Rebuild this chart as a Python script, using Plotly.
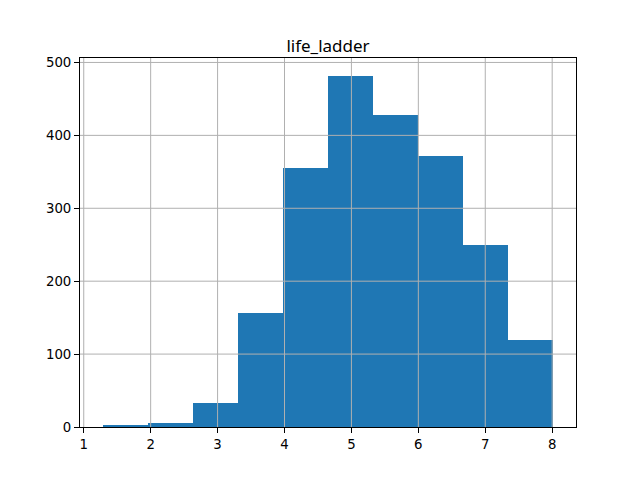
import numpy as np
import plotly.graph_objects as go

# histogram of life_ladder (10 bins)
bin_edges = [1.281, 1.955, 2.629, 3.303, 3.977, 4.651, 5.325, 5.999, 6.673, 7.347, 8.019]
counts = [2, 5, 33, 156, 355, 482, 428, 372, 250, 120]
x_ticks = [1, 2, 3, 4, 5, 6, 7, 8]
y_ticks = [0, 100, 200, 300, 400, 500]

edges = np.array(bin_edges)
centers = (edges[:-1] + edges[1:]) / 2
widths = np.diff(edges)

fig = go.Figure(
    go.Bar(
        x=centers,
        y=counts,
        width=widths,
        marker=dict(color="#1f77b4", line=dict(width=0)),
        hoverinfo="x+y",
    )
)

span = edges[-1] - edges[0]
x_range = [edges[0] - 0.05 * span, edges[-1] + 0.05 * span]
y_range = [0, max(counts) * 1.05]

# matplotlib draws the grid over the bars here
grid = dict(color="#b0b0b0", width=1)
shapes = []
for t in x_ticks:
    shapes.append(dict(type="line", xref="x", yref="paper", x0=t, x1=t, y0=0, y1=1,
                       line=grid, layer="above"))
for t in y_ticks[1:]:
    shapes.append(dict(type="line", xref="paper", yref="y", x0=0, x1=1, y0=t, y1=t,
                       line=grid, layer="above"))

axis_style = dict(
    showgrid=False,
    zeroline=False,
    showline=True,
    linecolor="black",
    linewidth=1,
    mirror=True,
    ticks="outside",
    ticklen=5,
    tickwidth=1,
    tickcolor="black",
    tickfont=dict(family="DejaVu Sans", size=13.3, color="black"),
)

# page body has an 8px margin, so the figure sits 8px in from the corner
fig.update_layout(
    width=640,
    height=480,
    margin=dict(l=72, r=72, t=50, b=61),
    paper_bgcolor="white",
    plot_bgcolor="white",
    showlegend=False,
    bargap=0,
    shapes=shapes,
    title=dict(
        text="life_ladder",
        x=0.5,
        xref="paper",
        xanchor="center",
        y=1,
        yref="paper",
        yanchor="bottom",
        pad=dict(b=6),
        font=dict(family="Noto Sans", size=17, color="black"),
    ),
    xaxis=dict(axis_style, range=x_range, tickvals=x_ticks),
    yaxis=dict(axis_style, range=y_range, tickvals=y_ticks),
)

fig.write_html("out.html")
